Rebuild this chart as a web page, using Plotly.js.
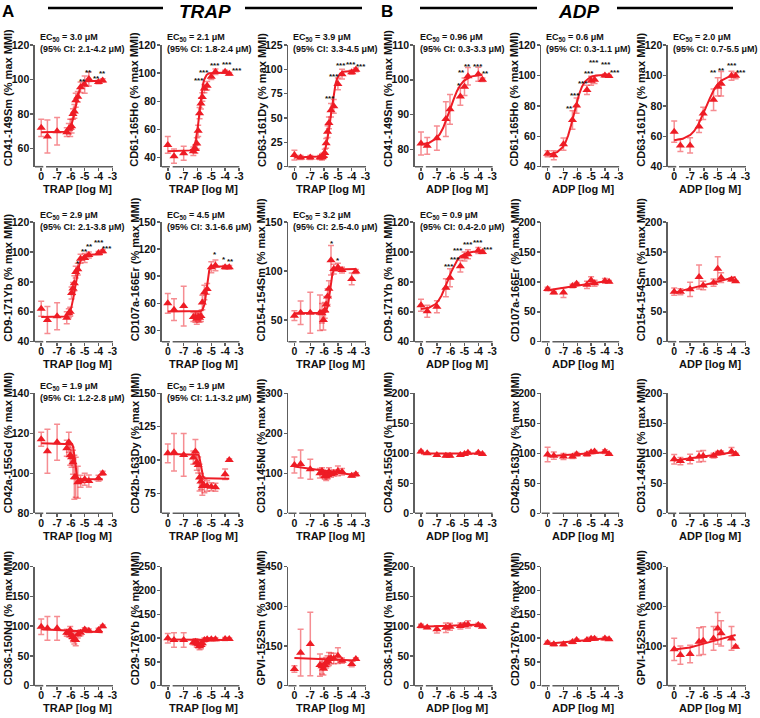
<!DOCTYPE html>
<html><head><meta charset="utf-8">
<script src="https://cdn.plot.ly/plotly-3.0.1.min.js"></script>
<style>html,body{margin:0;padding:0;background:#fff}#chart{width:760px;height:718px}</style>
</head><body><div id="chart"></div>
<script>
// ---------- DATA ----------
// log molar concentrations; the vehicle ("0") sits in the broken-axis slot
const trapLogConc = [-8.15, -7.7, -7, -6.3, -6.15, -6.05, -5.95, -5.85, -5.75, -5.65, -5.5, -5.3, -5, -4.7, -4, -3.7];
const adpLogConc  = [-8.15, -7.7, -7, -6.35, -6.05, -5.3, -5, -4.75, -4, -3.7];
const xTickVals = [-8.15, -7, -6, -5, -4, -3];
const xTickText = ['0', '-7', '-6', '-5', '-4', '-3'];

// TRAP panels: mean and error
const cd41TrapY   = [72, 67, 70, 69.5, 71.5, 72, 73, 80, 81.5, 88, 90, 95.5, 97, 100.3, 98.5, 99.5];
const cd41TrapErr = [5, 9.5, 8, 2.5, 3, 5, 4, 3, 4, 4, 3, 3, 5, 4, 1, 1];
const cd61TrapY   = [49, 41, 43, 44.5, 46, 50, 59, 71.5, 78.5, 83, 89, 91, 97.5, 101, 101, 99.5];
const cd61TrapErr = [6, 5, 5, 3, 3, 4, 4, 4, 4, 3, 3, 3, 2, 2, 1, 1];
const cd63TrapY   = [12, 9.5, 9.5, 9.5, 10, 11, 14, 24, 36, 45, 58, 62, 85, 95, 97, 99.5];
const cd63TrapErr = [5, 2, 2, 2, 3, 3, 4, 5, 6, 6, 7, 7, 6, 5, 2, 2];
const cd9TrapY    = [62, 54.5, 57, 56, 59, 60, 72.5, 75.5, 79, 86.5, 88.5, 95.5, 96, 98, 99.3, 100.4];
const cd9TrapErr  = [5, 9, 9, 4, 3, 3, 4, 4, 5, 4, 4, 3, 3, 2, 1, 1];
const cd107aTrapY   = [60, 53, 57, 45, 45, 43, 45, 44, 46, 61, 72, 76, 100, 102, 100, 100];
const cd107aTrapErr = [11, 12, 22, 5, 6, 6, 5, 5, 6, 8, 8, 6, 6, 6, 2, 2];
const cd154TrapY   = [54.5, 57.5, 57.5, 57.5, 57, 50, 60, 66, 74, 82, 111, 102, 104, 101, 92, 99.5];
const cd154TrapErr = [5, 12, 21, 18, 10, 10, 8, 8, 8, 8, 15, 5, 4, 3, 6, 2];
const cd42aTrapY   = [117, 111, 115.5, 112.5, 115.5, 109, 108, 105.5, 98, 98, 95.5, 96, 97, 96.2, 97.5, 100];
const cd42aTrapErr = [3.5, 11, 9, 4, 5, 5, 5, 6, 11, 10, 8, 3, 3, 3, 1.5, 1];
const cd42bTrapY   = [105, 105.8, 103.8, 101.8, 106.3, 98.3, 96.3, 86.8, 83.8, 80.5, 80.5, 80.5, 80, 79.5, 89.3, 100];
const cd42bTrapErr = [7, 14, 16, 5, 9, 6, 6, 10, 6, 7, 5, 4, 3, 3, 4, 1];
const cd31TrapY   = [121, 123, 110, 100, 106, 100, 93, 92, 96, 104, 98, 101, 106, 104, 94, 97.5];
const cd31TrapErr = [20, 35, 25, 12, 8, 8, 8, 10, 10, 10, 8, 8, 12, 8, 4, 4];
const cd36TrapY   = [99, 96.5, 96.5, 89, 88, 93.5, 85, 82, 78, 77, 86, 89, 94.5, 92.5, 93.5, 100];
const cd36TrapErr = [13, 20, 20, 6, 6, 6, 6, 8, 8, 10, 6, 5, 3, 3, 3, 2];
const cd29TrapY   = [99.5, 96, 96, 91, 92.5, 89, 87, 83.5, 85.5, 89, 96, 97.5, 97.5, 97.5, 98, 98];
const cd29TrapErr = [10, 15, 15, 5, 6, 8, 8, 8, 8, 6, 4, 3, 3, 3, 3, 2];
const gpviTrapY   = [63, 125, 158, 78, 74, 65, 78, 87, 93, 101, 104, 103, 113.5, 94.5, 82, 101];
const gpviTrapErr = [12, 88, 120, 42, 30, 25, 20, 20, 20, 25, 20, 20, 30, 10, 10, 5];

// ADP panels
const cd41AdpY   = [81.7, 81, 83.2, 88.7, 91.5, 95.2, 98, 101, 101.6, 100];
const cd41AdpErr = [3.3, 2.4, 3.5, 5, 4.3, 2.5, 2.5, 2.5, 2, 0.5];
const cd61AdpY   = [48.5, 47.5, 54.8, 70.7, 80.2, 90.5, 96.5, 97.2, 100, 99.6];
const cd61AdpErr = [2, 3, 4, 6, 5, 3, 3, 2.5, 1, 0.5];
const cd63AdpY   = [63, 54, 54, 66.5, 75, 84, 92.5, 94.5, 99.8, 99.8];
const cd63AdpErr = [7, 4, 5, 4, 4, 7, 6, 8, 3, 2];
const cd9AdpY    = [64.4, 60.4, 63.3, 76, 82.7, 90.5, 97, 98.5, 101, 100];
const cd9AdpErr  = [4, 4, 4, 6, 6, 4, 3, 3, 2, 1];
const cd107aAdpY   = [88, 82, 82, 93, 97, 95, 102.5, 97.5, 101.5, 100.3];
const cd107aAdpErr = [3, 2, 8, 3, 2, 6, 6, 5, 4, 2];
const cd154AdpY   = [83.6, 83.6, 87.5, 108, 94, 98.6, 122, 107, 104, 101];
const cd154AdpErr = [6, 5, 12, 20, 7, 6, 20, 8, 3, 1];
const cd42aAdpY   = [102.8, 100, 97.2, 96, 96, 97.2, 98.9, 101, 101, 99];
const cd42aAdpErr = [2, 1.5, 1.5, 2, 2, 2, 1.5, 1.5, 1.5, 1];
const cd42bAdpY   = [98, 96, 94.5, 94.5, 98.3, 98.3, 101.7, 102.8, 102.8, 99];
const cd42bAdpErr = [12, 6, 5, 3, 3, 3, 2, 2, 3, 1];
const cd31AdpY   = [90, 87, 90.5, 94.5, 95.5, 96, 100, 101, 102.8, 99];
const cd31AdpErr = [8, 6, 8, 9, 9, 4, 3, 3, 7, 1];
const cd36AdpY   = [100.3, 98, 94.7, 97.5, 99, 100.3, 102, 103, 102, 99];
const cd36AdpErr = [3, 2, 6, 8, 6, 5, 3, 6, 3, 1];
const cd29AdpY   = [90.4, 87, 87, 91.8, 96, 96, 98.7, 98.7, 99.4, 97.4];
const cd29AdpErr = [3, 3, 3, 3, 2, 2, 3, 3, 3, 1];
const gpviAdpY   = [91.6, 77.3, 79.8, 111, 113.4, 119.3, 144.5, 132, 119.3, 98.3];
const gpviAdpErr = [28, 23, 22, 35, 35, 30, 40, 32, 30, 3];

// fitted curves
const cd41TrapFitX = [-8.15, -6.45, -6.25, -6.05, -5.95, -5.85, -5.75, -5.65, -5.55, -5.45, -5.35, -5.25, -5.05, -4.85, -3.7];
const cd41TrapFitY = [69.5, 69.8, 70.4, 72.2, 74.0, 76.7, 80.2, 84.4, 88.6, 92.1, 94.8, 96.6, 98.4, 99.0, 99.3];
const cd61TrapFitX = [-8.15, -6.53, -6.36, -6.19, -6.11, -6.02, -5.94, -5.85, -5.77, -5.68, -5.6, -5.51, -5.34, -5.17, -3.7];
const cd61TrapFitY = [44.5, 45.1, 46.2, 49.5, 52.9, 58.0, 64.7, 72.5, 80.3, 87.1, 92.1, 95.5, 98.8, 99.9, 100.5];
const cd63TrapFitX = [-8.15, -6.38, -6.16, -5.94, -5.83, -5.72, -5.61, -5.5, -5.39, -5.28, -5.17, -5.06, -4.84, -4.62, -3.7];
const cd63TrapFitY = [9.5, 10.4, 12.2, 17.5, 22.9, 30.9, 41.5, 54.0, 66.5, 77.1, 85.2, 90.5, 95.8, 97.6, 98.5];
const cd9TrapFitX = [-8.15, -6.47, -6.27, -6.07, -5.97, -5.87, -5.77, -5.67, -5.57, -5.47, -5.37, -5.27, -5.07, -4.87, -3.7];
const cd9TrapFitY = [56.5, 56.9, 57.8, 60.3, 62.8, 66.6, 71.6, 77.5, 83.4, 88.4, 92.2, 94.7, 97.2, 98.1, 98.5];
const cd107aTrapFitX = [-8.15, -5.75, -5.65, -5.55, -5.5, -5.45, -5.4, -5.35, -5.3, -5.25, -5.2, -5.15, -5.05, -4.95, -3.7];
const cd107aTrapFitY = [51, 51.5, 52.5, 55.5, 58.5, 63, 69, 76, 83, 89, 93.5, 96.5, 99.5, 100.5, 101];
const cd154TrapFitX = [-8.15, -5.99, -5.89, -5.79, -5.74, -5.69, -5.64, -5.59, -5.54, -5.49, -5.44, -5.39, -5.29, -5.19, -3.7];
const cd154TrapFitY = [57, 57.5, 58.4, 61.1, 63.8, 67.8, 73.2, 79.5, 85.8, 91.2, 95.3, 98.0, 100.7, 101.6, 102];
const cd42aTrapFitX = [-8.15, -5.98, -5.91, -5.84, -5.81, -5.77, -5.74, -5.7, -5.67, -5.63, -5.6, -5.56, -5.49, -5.42, -3.7];
const cd42aTrapFitY = [115, 114.8, 114.5, 113.4, 112.3, 110.7, 108.5, 106, 103.5, 101.3, 99.7, 98.6, 97.5, 97.2, 97];
const cd42bTrapFitX = [-8.15, -6.02, -5.95, -5.88, -5.85, -5.81, -5.78, -5.74, -5.71, -5.67, -5.64, -5.6, -5.53, -5.46, -3.7];
const cd42bTrapFitY = [104.5, 104.3, 103.9, 102.8, 101.7, 100.1, 97.8, 95.3, 92.7, 90.4, 88.8, 87.7, 86.6, 86.2, 86];
const cd31TrapFitX = [-8.15, -3.7];  const cd31TrapFitY = [117, 95];
const cd36TrapFitX = [-8.15, -3.7];  const cd36TrapFitY = [95, 90];
const cd29TrapFitX = [-8.15, -3.7];  const cd29TrapFitY = [97, 96];
const gpviTrapFitX = [-8.15, -3.7];  const gpviTrapFitY = [105, 95];

const cd41AdpFitX = [-8.15, -7.55, -7.05, -6.8, -6.55, -6.3, -6.05, -5.8, -5.55, -5.3, -5.05, -4.55, -4.05, -3.7];
const cd41AdpFitY = [81.4, 81.9, 83.1, 84.3, 86.1, 88.6, 91.4, 94.2, 96.7, 98.5, 99.7, 100.9, 101.3, 101.5];
const cd61AdpFitX = [-8.15, -7.86, -7.46, -7.06, -6.86, -6.66, -6.46, -6.26, -6.06, -5.86, -5.66, -5.46, -5.06, -4.66, -3.7];
const cd61AdpFitY = [48.2, 48.5, 49.6, 52.7, 55.9, 60.6, 66.9, 74.3, 81.6, 87.9, 92.6, 95.8, 98.9, 100.0, 100.5];
const cd63AdpFitX = [-8.15, -7.54, -6.98, -6.7, -6.42, -6.14, -5.86, -5.58, -5.3, -5.02, -4.74, -4.18, -3.7];
const cd63AdpFitY = [57.4, 58.3, 60.9, 63.5, 67.4, 72.7, 78.8, 84.8, 90.1, 94.0, 96.6, 99.2, 100];
const cd9AdpFitX = [-8.15, -7.58, -7.12, -6.89, -6.66, -6.43, -6.2, -5.97, -5.74, -5.51, -5.28, -4.82, -4.36, -3.7];
const cd9AdpFitY = [61.8, 62.7, 65.0, 67.4, 70.9, 75.5, 81.0, 86.5, 91.1, 94.7, 97.0, 99.3, 100.1, 100.5];
const cd107aAdpFitX = [-8.15, -3.7]; const cd107aAdpFitY = [86, 102];
const cd154AdpFitX = [-8.15, -3.7];  const cd154AdpFitY = [82, 108];
const cd42aAdpFitX = [-8.15, -3.7];  const cd42aAdpFitY = [99.5, 99.5];
const cd42bAdpFitX = [-8.15, -3.7];  const cd42bAdpFitY = [95, 102];
const cd31AdpFitX = [-8.15, -3.7];   const cd31AdpFitY = [88, 102];
const cd36AdpFitX = [-8.15, -3.7];   const cd36AdpFitY = [99, 103];
const cd29AdpFitX = [-8.15, -3.7];   const cd29AdpFitY = [88, 100];
const gpviAdpFitX = [-8.15, -7, -6, -5, -3.7]; const gpviAdpFitY = [91, 96.5, 106, 115, 128];

// significance stars [x, y, label]
const cd41TrapStars = [[-5.16, 100.3, '**'], [-4.72, 105.5, '**'], [-4.14, 101.6, '**'], [-3.71, 104.5, '**']];
const cd61TrapStars = [[-5.89, 95.9, '***'], [-5.55, 102.2, '***'], [-4.74, 106.5, '***'], [-3.88, 107.5, '***'], [-3.14, 103, '***']];
const cd63TrapStars = [[-5.57, 71.9, '***'], [-5.26, 94.2, '***'], [-4.74, 106.2, '***'], [-4.02, 106.8, '***'], [-3.31, 104.5, '***']];
const cd9TrapStars  = [[-5.45, 93.3, '*'], [-5.04, 101.8, '**'], [-4.68, 105.1, '**'], [-4.0, 107.8, '***'], [-3.39, 103.8, '***']];
const cd107aTrapStars = [[-4.7, 116.3, '*'], [-4.07, 110.9, '*'], [-3.61, 108, '**']];
const cd154TrapStars  = [[-5.41, 130.1, '*'], [-4.98, 113, '*']];
const cd41AdpStars = [[-5.43, 98.9, '*'], [-5.19, 102.6, '**'], [-4.79, 104.5, '**'], [-4.0, 104.4, '***'], [-3.48, 102.4, '**']];
const cd61AdpStars = [[-6.58, 79.3, '**'], [-6.14, 88, '***'], [-5.6, 95.7, '***'], [-5.16, 102.6, '***'], [-4.81, 109.8, '***'], [-3.93, 108.5, '***'], [-3.27, 103.3, '***']];
const cd63AdpStars = [[-5.33, 103.3, '**'], [-4.74, 104.8, '**'], [-3.95, 108, '***'], [-3.31, 103.3, '***']];
const cd9AdpStars  = [[-6.09, 91.6, '***'], [-5.68, 96.2, '***'], [-5.44, 102.2, '***'], [-4.72, 106, '***'], [-4.05, 107.8, '***'], [-3.33, 102.9, '***']];

const ec50Texts = {
  cd41Trap: ['3.0', '2.1-4.2'], cd61Trap: ['2.1', '1.8-2.4'], cd63Trap: ['3.9', '3.3-4.5'],
  cd9Trap: ['2.9', '2.1-3.8'], cd107aTrap: ['4.5', '3.1-6.6'], cd154Trap: ['3.2', '2.5-4.0'],
  cd42aTrap: ['1.9', '1.2-2.8'], cd42bTrap: ['1.9', '1.1-3.2'],
  cd41Adp: ['0.96', '0.3-3.3'], cd61Adp: ['0.6', '0.3-1.1'], cd63Adp: ['2.0', '0.7-5.5'], cd9Adp: ['0.9', '0.4-2.0']
};

// ---------- PANELS ----------
const T = 'TRAP [log M]', A = 'ADP [log M]';
const panels = [
  {c:0,r:0,x:trapLogConc,y:cd41TrapY,e:cd41TrapErr,fx:cd41TrapFitX,fy:cd41TrapFitY,t:'CD41-149Sm (% max MMI)',yr:[49.5,120],yt:[60,80,100,120],xl:T,ec:ec50Texts.cd41Trap,st:cd41TrapStars},
  {c:1,r:0,x:trapLogConc,y:cd61TrapY,e:cd61TrapErr,fx:cd61TrapFitX,fy:cd61TrapFitY,t:'CD61-165Ho (% max MMI)',yr:[33.5,120],yt:[40,60,80,100,120],xl:T,ec:ec50Texts.cd61Trap,st:cd61TrapStars},
  {c:2,r:0,x:trapLogConc,y:cd63TrapY,e:cd63TrapErr,fx:cd63TrapFitX,fy:cd63TrapFitY,t:'CD63-161Dy (% max MMI)',yr:[0,125],yt:[0,25,50,75,100,125],xl:T,ec:ec50Texts.cd63Trap,st:cd63TrapStars},
  {c:3,r:0,x:adpLogConc,y:cd41AdpY,e:cd41AdpErr,fx:cd41AdpFitX,fy:cd41AdpFitY,t:'CD41-149Sm (% max MMI)',yr:[75,110],yt:[80,90,100,110],xl:A,ec:ec50Texts.cd41Adp,st:cd41AdpStars},
  {c:4,r:0,x:adpLogConc,y:cd61AdpY,e:cd61AdpErr,fx:cd61AdpFitX,fy:cd61AdpFitY,t:'CD61-165Ho (% max MMI)',yr:[40,120],yt:[40,60,80,100,120],xl:A,ec:ec50Texts.cd61Adp,st:cd61AdpStars},
  {c:5,r:0,x:adpLogConc,y:cd63AdpY,e:cd63AdpErr,fx:cd63AdpFitX,fy:cd63AdpFitY,t:'CD63-161Dy (% max MMI)',yr:[40,120],yt:[40,60,80,100,120],xl:A,ec:ec50Texts.cd63Adp,st:cd63AdpStars},

  {c:0,r:1,x:trapLogConc,y:cd9TrapY,e:cd9TrapErr,fx:cd9TrapFitX,fy:cd9TrapFitY,t:'CD9-171Yb (% max MMI)',yr:[40,120],yt:[40,60,80,100,120],xl:T,ec:ec50Texts.cd9Trap,st:cd9TrapStars},
  {c:1,r:1,x:trapLogConc,y:cd107aTrapY,e:cd107aTrapErr,fx:cd107aTrapFitX,fy:cd107aTrapFitY,t:'CD107a-166Er (% max MMI)',yr:[17.6,150],yt:[30,60,90,120,150],xl:T,ec:ec50Texts.cd107aTrap,st:cd107aTrapStars},
  {c:2,r:1,x:trapLogConc,y:cd154TrapY,e:cd154TrapErr,fx:cd154TrapFitX,fy:cd154TrapFitY,t:'CD154-154Sm (% max MMI)',yr:[28,150],yt:[50,100,150],xl:T,ec:ec50Texts.cd154Trap,st:cd154TrapStars},
  {c:3,r:1,x:adpLogConc,y:cd9AdpY,e:cd9AdpErr,fx:cd9AdpFitX,fy:cd9AdpFitY,t:'CD9-171Yb (% max MMI)',yr:[40,120],yt:[40,60,80,100,120],xl:A,ec:ec50Texts.cd9Adp,st:cd9AdpStars},
  {c:4,r:1,x:adpLogConc,y:cd107aAdpY,e:cd107aAdpErr,fx:cd107aAdpFitX,fy:cd107aAdpFitY,t:'CD107a-166Er (% max MMI)',yr:[0,200],yt:[0,50,100,150,200],xl:A},
  {c:5,r:1,x:adpLogConc,y:cd154AdpY,e:cd154AdpErr,fx:cd154AdpFitX,fy:cd154AdpFitY,t:'CD154-154Sm (% max MMI)',yr:[0,200],yt:[0,50,100,150,200],xl:A},

  {c:0,r:2,x:trapLogConc,y:cd42aTrapY,e:cd42aTrapErr,fx:cd42aTrapFitX,fy:cd42aTrapFitY,t:'CD42a-155Gd (% max MMI)',yr:[80,140],yt:[80,100,120,140],xl:T,ec:ec50Texts.cd42aTrap},
  {c:1,r:2,x:trapLogConc,y:cd42bTrapY,e:cd42bTrapErr,fx:cd42bTrapFitX,fy:cd42bTrapFitY,t:'CD42b-163Dy (% max MMI)',yr:[60,150],yt:[75,100,125,150],xl:T,ec:ec50Texts.cd42bTrap},
  {c:2,r:2,x:trapLogConc,y:cd31TrapY,e:cd31TrapErr,fx:cd31TrapFitX,fy:cd31TrapFitY,t:'CD31-145Nd (% max MMI)',yr:[0,300],yt:[0,100,200,300],xl:T},
  {c:3,r:2,x:adpLogConc,y:cd42aAdpY,e:cd42aAdpErr,fx:cd42aAdpFitX,fy:cd42aAdpFitY,t:'CD42a-155Gd (% max MMI)',yr:[0,200],yt:[0,50,100,150,200],xl:A},
  {c:4,r:2,x:adpLogConc,y:cd42bAdpY,e:cd42bAdpErr,fx:cd42bAdpFitX,fy:cd42bAdpFitY,t:'CD42b-163Dy (% max MMI)',yr:[0,200],yt:[0,50,100,150,200],xl:A},
  {c:5,r:2,x:adpLogConc,y:cd31AdpY,e:cd31AdpErr,fx:cd31AdpFitX,fy:cd31AdpFitY,t:'CD31-145Nd (% max MMI)',yr:[0,200],yt:[0,50,100,150,200],xl:A},

  {c:0,r:3,x:trapLogConc,y:cd36TrapY,e:cd36TrapErr,fx:cd36TrapFitX,fy:cd36TrapFitY,t:'CD36-150Nd (% max MMI)',yr:[0,200],yt:[0,50,100,150,200],xl:T},
  {c:1,r:3,x:trapLogConc,y:cd29TrapY,e:cd29TrapErr,fx:cd29TrapFitX,fy:cd29TrapFitY,t:'CD29-176Yb (% max MMI)',yr:[0,250],yt:[0,50,100,150,200,250],xl:T},
  {c:2,r:3,x:trapLogConc,y:gpviTrapY,e:gpviTrapErr,fx:gpviTrapFitX,fy:gpviTrapFitY,t:'GPVI-152Sm (% max MMI)',yr:[0,450],yt:[0,150,300,450],xl:T},
  {c:3,r:3,x:adpLogConc,y:cd36AdpY,e:cd36AdpErr,fx:cd36AdpFitX,fy:cd36AdpFitY,t:'CD36-150Nd (% max MMI)',yr:[0,200],yt:[0,50,100,150,200],xl:A},
  {c:4,r:3,x:adpLogConc,y:cd29AdpY,e:cd29AdpErr,fx:cd29AdpFitX,fy:cd29AdpFitY,t:'CD29-176Yb (% max MMI)',yr:[0,250],yt:[0,50,100,150,200,250],xl:A},
  {c:5,r:3,x:adpLogConc,y:gpviAdpY,e:gpviAdpErr,fx:gpviAdpFitX,fy:gpviAdpFitY,t:'GPVI-152Sm (% max MMI)',yr:[0,300],yt:[0,100,200,300],xl:A}
];

// ---------- BUILD ----------
const W = 760, H = 718;
const colLeft = c => 35 + 126.6 * c;
const rowTop = [45, 222, 393.3, 566.7];
const rowBot = [166.7, 341.7, 513.3, 685.7];
const PW = 78;
const RED = '#ee1c25', ERRC = 'rgba(238,28,37,0.5)', AX = '#5e5e5e';
const FONT = '"Liberation Sans", Arial, sans-serif';
const px = p => p / W, py = p => 1 - p / H;
const XR = [-8.6, -2.95];

const data = [];
const layout = {
  width: W, height: H, margin: {l: 0, r: 0, t: 0, b: 0},
  paper_bgcolor: '#fff', plot_bgcolor: 'rgba(0,0,0,0)', showlegend: false,
  font: {family: FONT, color: '#111'},
  shapes: [], annotations: []
};
const tf = {family: FONT, size: 10.5, color: '#111', weight: 'bold'};

panels.forEach((p, i) => {
  const n = i + 1, s = n === 1 ? '' : String(n);
  const xa = 'x' + s, ya = 'y' + s;
  const L = colLeft(p.c), Tp = rowTop[p.r], B = rowBot[p.r];
  layout['xaxis' + s] = {
    domain: [px(L), px(L + PW)], anchor: ya, range: XR, tickmode: 'array',
    tickvals: xTickVals, ticktext: xTickText, showline: false, ticks: 'outside',
    ticklen: 3, tickwidth: 1.5, tickcolor: AX, showgrid: false, zeroline: false,
    tickfont: tf, ticklabelstandoff: -3, fixedrange: true
  };
  layout['yaxis' + s] = {
    domain: [py(B), py(Tp)], anchor: xa, range: p.yr, tickmode: 'array', tickvals: p.yt,
    showline: true, linecolor: AX, linewidth: 1.6, ticks: 'outside', ticklen: 3,
    tickwidth: 1.5, tickcolor: AX, showgrid: false, zeroline: false, tickfont: tf,
    ticklabelstandoff: -1, fixedrange: true
  };
  // broken x axis line
  layout.shapes.push({type: 'line', xref: xa, yref: ya + ' domain', x0: XR[0], x1: -8.0, y0: 0, y1: 0, line: {color: AX, width: 1.6}});
  layout.shapes.push({type: 'line', xref: xa, yref: ya + ' domain', x0: -7.8, x1: XR[1], y0: 0, y1: 0, line: {color: AX, width: 1.6}});

  data.push({x: p.x, y: p.y, xaxis: xa, yaxis: ya, type: 'scatter', mode: 'markers',
    marker: {symbol: 'triangle-up', size: 8, color: RED},
    error_y: {type: 'data', array: p.e, visible: true, color: ERRC, thickness: 1.5, width: 3},
    cliponaxis: false, hoverinfo: 'skip'});
  data.push({x: p.fx, y: p.fy, xaxis: xa, yaxis: ya, type: 'scatter', mode: 'lines',
    line: {color: RED, width: 2}, hoverinfo: 'skip'});

  // y title
  layout.annotations.push({xref: 'paper', yref: 'paper', x: px(L - 27), y: py(B + 2),
    xanchor: 'center', yanchor: 'bottom', textangle: -90, showarrow: false, text: p.t,
    font: {family: FONT, size: 11, color: '#111', weight: 'bold'}});
  // x title
  layout.annotations.push({xref: 'paper', yref: 'paper', x: px(L + 42), y: py(B + 22.5),
    xanchor: 'center', yanchor: 'middle', showarrow: false, text: p.xl,
    font: {family: FONT, size: 11, color: '#111', weight: 'bold'}});
  if (p.ec) {
    layout.annotations.push({xref: 'paper', yref: 'paper', x: px(L + 4), y: py(Tp - 1.5),
      xanchor: 'left', yanchor: 'middle', align: 'left', showarrow: false, borderpad: 0,
      text: 'EC<sub>50</sub> = ' + p.ec[0] + ' μM<br>(95% CI: ' + p.ec[1] + ' μM)',
      font: {family: FONT, size: 9, color: '#111', weight: 'bold'}});
  }
  (p.st || []).forEach(st => {
    layout.annotations.push({xref: xa, yref: ya, x: st[0], y: st[1], text: st[2], showarrow: false,
      xanchor: 'center', yanchor: 'middle', yshift: -2,
      font: {family: FONT, size: 8, color: '#111', weight: 'bold'}});
  });
});

// header
const hdrLines = [[48, 163], [245, 362], [420, 537], [617, 733]];
hdrLines.forEach(h => layout.shapes.push({type: 'line', xref: 'paper', yref: 'paper',
  x0: px(h[0]), x1: px(h[1]), y0: py(8), y1: py(8), line: {color: '#000', width: 2.5}}));
const hdrText = [['A', 8.3, false], ['TRAP', 205, true], ['B', 386.7, false], ['ADP', 578, true]];
hdrText.forEach(h => layout.annotations.push({xref: 'paper', yref: 'paper', x: px(h[1]), y: py(12),
  xanchor: 'center', yanchor: 'middle', showarrow: false, text: h[2] ? '<i>' + h[0] + '</i>' : h[0],
  font: {family: FONT, size: h[2] ? 19 : 17, color: '#000', weight: 'bold'}}));

Plotly.newPlot('chart', data, layout, {staticPlot: true, displayModeBar: false});
</script></body></html>
